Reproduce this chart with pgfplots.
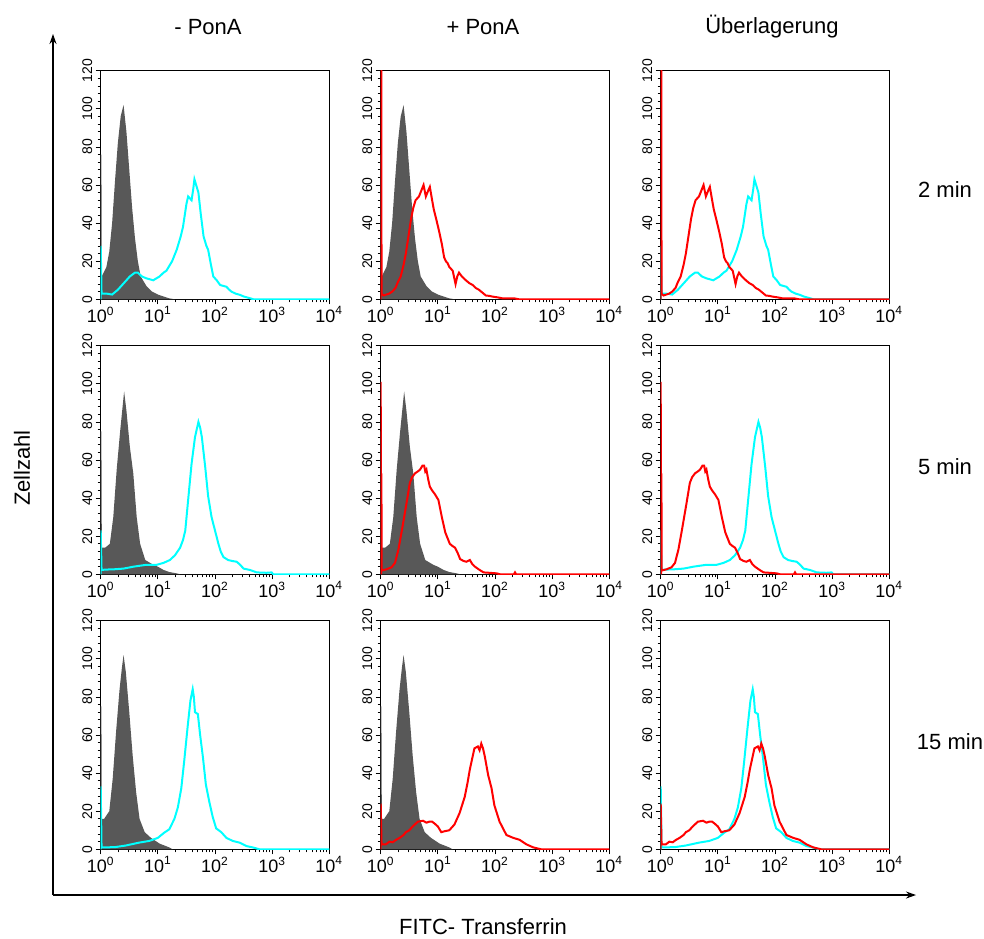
\documentclass[border=0pt]{standalone}
\usepackage{pgfplots}
\pgfplotsset{compat=1.18}
\usepackage{pgfplotstable}
\usepackage{fontspec}
\setmainfont{Liberation Sans}
\usetikzlibrary{arrows.meta}
\definecolor{grayfill}{RGB}{88,88,88}
\definecolor{cyanline}{RGB}{0,255,255}
\definecolor{redline}{RGB}{255,0,0}

% x = log10(fluorescence), y = cell count
\pgfplotstableread{
d y
0 0
0 76
0.012 76
0.02 12
0.05 14
0.1 17
0.15 25
0.2 40
0.25 62
0.3 82
0.35 96
0.4 102
0.45 88
0.5 68
0.55 48
0.6 32
0.65 20
0.7 12
0.8 7
0.9 4
1.0 2.5
1.1 1.5
1.2 0.5
1.3 0
4 0
}\grayA
\pgfplotstableread{
d y
0 0
0 28
0.015 3
0.1 3
0.2 2.5
0.3 5
0.39 8
0.51 12
0.6 14
0.65 14
0.72 12
0.8 11
0.92 10
1.03 12
1.1 14
1.15 15
1.25 20
1.33 26
1.4 33
1.44 38
1.5 50
1.53 54
1.56 53
1.59 52
1.62 58
1.64 63
1.67 60
1.71 56
1.75 45
1.8 33
1.85 28
1.88 26
1.93 18
1.97 12
2.03 10
2.09 7.5
2.15 7
2.2 6.6
2.25 5
2.29 4
2.36 3
2.44 2.3
2.5 1.5
2.56 1
2.62 0.5
2.67 0
4 0
}\cyanA
\pgfplotstableread{
d y
0 0
0 120
0.01 120
0.015 3
0.05 2
0.15 3
0.2 4
0.26 6
0.3 9
0.35 12
0.4 18
0.44 24
0.48 32
0.53 42
0.57 48
0.61 52
0.67 54
0.71 57
0.75 60
0.77 57
0.79 54
0.83 57
0.86 59
0.9 52
0.93 47
0.98 41
1.02 36
1.07 29
1.11 22
1.14 20
1.17 19
1.2 17
1.26 15
1.31 8
1.34 12
1.37 14
1.42 12
1.49 10
1.55 8.5
1.61 7.5
1.66 6
1.72 5
1.78 3.5
1.84 2
1.9 1.8
1.96 1.4
2.05 1
2.13 0.5
2.25 0.5
2.34 0.5
2.42 0
4 0
}\redA
\pgfplotstableread{
d y
0 0
0 75
0.012 75
0.02 14
0.08 14
0.16 16
0.22 30
0.28 55
0.34 75
0.40 93
0.41 96
0.45 86
0.51 67
0.57 53
0.63 30
0.69 16
0.78 7.5
0.92 5
1.0 4
1.10 2.3
1.2 1.2
1.33 0.5
1.39 0
4 0
}\grayB
\pgfplotstableread{
d y
0 0
0 23
0.015 2.3
0.1 2.5
0.22 2.6
0.4 3
0.57 4
0.8 5
0.98 5
1.1 6
1.21 7.5
1.30 10
1.39 14
1.44 18
1.48 23
1.53 39
1.59 58
1.65 72
1.71 80
1.74 77
1.77 72
1.83 56
1.88 41
1.94 30
2.0 23
2.06 16
2.1 12
2.15 9
2.23 7.5
2.3 7
2.38 6.6
2.44 5
2.50 3
2.61 2.3
2.73 1
2.9 0.8
2.99 1
3.02 0
4 0
}\cyanB
\pgfplotstableread{
d y
0 0
0 101
0.006 0
0.012 53
0.018 2
0.10 2.6
0.19 3.7
0.25 6
0.31 13
0.37 23
0.45 37
0.51 48
0.55 51
0.60 53
0.65 54
0.69 55
0.73 57
0.76 57
0.78 54
0.80 55
0.83 50
0.86 46
0.9 44
0.95 42
1.01 39
1.07 30
1.13 22
1.17 19
1.21 16
1.25 15
1.30 14
1.35 11
1.39 8
1.45 7
1.50 6.6
1.56 7.5
1.6 5.5
1.65 4
1.72 2.5
1.80 1
1.9 0.8
2.03 0.5
2.09 0
2.33 0
2.35 1
2.37 0
4 0
}\redB
\pgfplotstableread{
d y
0 0
0 75
0.012 75
0.02 16
0.06 16
0.15 20
0.21 37
0.27 62
0.33 84
0.37 95
0.40 102
0.44 93
0.50 72
0.56 49
0.62 30
0.68 16
0.77 9
0.88 6
1.03 3
1.2 1
1.26 0
4 0
}\grayC
\pgfplotstableread{
d y
0 0
0 33
0.015 1
0.09 1
0.26 1.2
0.44 2
0.67 3.5
0.85 4.4
1.0 6
1.11 8.7
1.2 10.5
1.29 16
1.35 22
1.41 32
1.46 46
1.52 64
1.57 78
1.61 84
1.63 80
1.65 72
1.70 71
1.74 60
1.79 48
1.84 34
1.90 25
1.96 17
2.02 11
2.11 9
2.2 6
2.31 4.4
2.43 3.5
2.55 1.7
2.66 1
2.78 0
4 0
}\cyanC
\pgfplotstableread{
d y
0 0
0 24
0.015 2.6
0.09 2.6
0.15 4
0.21 3.7
0.27 5
0.33 6
0.4 7.5
0.44 9
0.5 10
0.56 12
0.65 14.5
0.74 15
0.8 14
0.85 14.5
0.9 14.5
0.94 13.6
1.0 12
1.06 9
1.12 9.5
1.2 10
1.29 13
1.38 19
1.47 27.5
1.52 35
1.56 42
1.64 53
1.70 54
1.73 52
1.76 55.5
1.79 53
1.82 49
1.88 39
1.94 32
1.99 23
2.08 14.5
2.2 7.5
2.32 6
2.43 5
2.55 2.6
2.67 1
2.81 0
4 0
}\redC

\pgfplotsset{
  panel/.style={
    anchor=south west,
    scale only axis, width=114.3pt, height=114.3pt,
    xmin=0, xmax=4, ymin=0, ymax=120,
    xtick={0,1,2,3,4},
    xticklabels={10\textsuperscript{0},10\textsuperscript{1},10\textsuperscript{2},10\textsuperscript{3},10\textsuperscript{4}},
    minor xtick={0.30103,0.47712,0.60206,0.69897,0.77815,0.84510,0.90309,0.95424,
                 1.30103,1.47712,1.60206,1.69897,1.77815,1.84510,1.90309,1.95424,
                 2.30103,2.47712,2.60206,2.69897,2.77815,2.84510,2.90309,2.95424,
                 3.30103,3.47712,3.60206,3.69897,3.77815,3.84510,3.90309,3.95424},
    ytick={0,20,40,60,80,100,120},
    minor y tick num=4,
    tick align=outside, xtick pos=left, ytick pos=left,
    major tick length=2.5pt, minor tick length=1.5pt,
    every tick/.style={black, line width=0.4pt},
    axis line style={black, line width=0.5pt},
    /pgf/number format/assume math mode=true,
    yticklabel style={rotate=90, anchor=south, font=\fontsize{7}{7}\selectfont, inner sep=1.5pt},
    xticklabel style={font=\fontsize{9}{9}\selectfont, inner sep=1pt},
  },
  gr/.style={draw=none, fill=grayfill},
  cy/.style={cyanline, line width=1pt},
  rd/.style={redline, line width=1pt},
}

\begin{document}
\begin{tikzpicture}
\useasboundingbox (0,0) rectangle (492pt,-469pt);
% outer arrows
\draw[line width=0.6pt, -{Stealth[length=5pt,width=3.5pt]}] (26.5pt,-447.5pt) -- (26.5pt,-17pt);
\draw[line width=0.6pt, -{Stealth[length=5pt,width=3.5pt]}] (26.5pt,-447.5pt) -- (458pt,-447.5pt);
% titles
\node[font=\fontsize{11}{13}\selectfont] at (104pt,-13.5pt) {- PonA};
\node[font=\fontsize{11}{13}\selectfont] at (241.5pt,-13.5pt) {+ PonA};
\node[font=\fontsize{11}{13}\selectfont] at (386pt,-13.5pt) {Überlagerung};
\node[font=\fontsize{11}{13}\selectfont] at (472.5pt,-95pt) {2 min};
\node[font=\fontsize{11}{13}\selectfont] at (472.5pt,-233.5pt) {5 min};
\node[font=\fontsize{11}{13}\selectfont] at (475pt,-371pt) {15 min};
\node[font=\fontsize{11}{13}\selectfont, rotate=90] at (11pt,-234pt) {Zellzahl};
\node[font=\fontsize{11}{13}\selectfont] at (241.5pt,-463.5pt) {FITC- Transferrin};

% Row 1
\begin{axis}[panel, at={(50.35pt,-149.65pt)}]
\addplot[gr] table {\grayA} \closedcycle;
\addplot[cy] table {\cyanA};
\end{axis}
\begin{axis}[panel, at={(190.35pt,-149.65pt)}]
\addplot[gr] table {\grayA} \closedcycle;
\addplot[rd] table {\redA};
\end{axis}
\begin{axis}[panel, at={(330.35pt,-149.65pt)}]
\addplot[cy] table {\cyanA};
\addplot[rd] table {\redA};
\end{axis}
% Row 2
\begin{axis}[panel, at={(50.35pt,-287.15pt)}]
\addplot[gr] table {\grayB} \closedcycle;
\addplot[cy] table {\cyanB};
\end{axis}
\begin{axis}[panel, at={(190.35pt,-287.15pt)}]
\addplot[gr] table {\grayB} \closedcycle;
\addplot[rd] table {\redB};
\end{axis}
\begin{axis}[panel, at={(330.35pt,-287.15pt)}]
\addplot[cy] table {\cyanB};
\addplot[rd] table {\redB};
\end{axis}
% Row 3
\begin{axis}[panel, at={(50.35pt,-424.65pt)}]
\addplot[gr] table {\grayC} \closedcycle;
\addplot[cy] table {\cyanC};
\end{axis}
\begin{axis}[panel, at={(190.35pt,-424.65pt)}]
\addplot[gr] table {\grayC} \closedcycle;
\addplot[rd] table {\redC};
\end{axis}
\begin{axis}[panel, at={(330.35pt,-424.65pt)}]
\addplot[cy] table {\cyanC};
\addplot[rd] table {\redC};
\end{axis}
\end{tikzpicture}
\end{document}
